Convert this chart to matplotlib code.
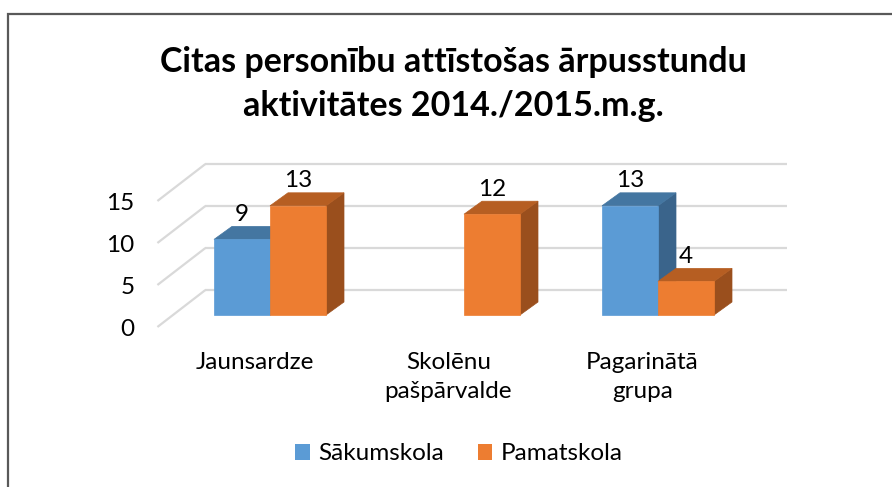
import matplotlib
matplotlib.use("Agg")
import matplotlib.pyplot as plt
from matplotlib.patches import Polygon, Rectangle
import numpy as np

plt.rcParams['font.family'] = ['Lato', 'DejaVu Sans']

# ---- data ----
categories = ["Jaunsardze", "Skolēnu\npašpārvalde", "Pagarinātā\ngrupa"]
series_names = ["Sākumskola", "Pamatskola"]
sakumskola = [9, np.nan, 13]
pamatskola = [13, 12, 4]
y_ticks = [0, 5, 10, 15]
title = "Citas personību attīstošas ārpusstundu\naktivitātes 2014./2015.m.g."

# ---- style ----
front_cols = ["#5B9BD5", "#ED7D31"]
top_cols = ["#4476A1", "#B65E22"]
side_cols = ["#3A648B", "#9A4F1D"]
grid_col = "#D9D9D9"
text_col = "#000000"
FS = 17.5

W, H = 892, 487
fig = plt.figure(figsize=(W / 100, H / 100), dpi=100)
ax = fig.add_axes([0, 0, 1, 1])
ax.set_axis_off()

# axis scale: pixel mapping for bar front plane
PX_X = 194.0   # px per category
PX_V = 8.4     # px per value unit
X0, V0 = 270.0, 315.0
ax.set_xlim(-X0 / PX_X, (W - X0) / PX_X)
ax.set_ylim((V0 - H) / PX_V, V0 / PX_V)

# 3D depth offsets (in data units)
dxf, dvf = -15.6 / PX_X, -12 / PX_V     # front plane relative to bars
dxb, dvb = 32.4 / PX_X, 25 / PX_V       # back wall relative to bars
bdx, bdv = 18 / PX_X, 13 / PX_V         # bar depth
bar_w = 56 / PX_X
xl, xr = -0.5, 2.5

# back wall gridlines and side-wall diagonals
for v in y_ticks:
    ax.plot([xl + dxb, xr + dxb], [v + dvb, v + dvb], color=grid_col, lw=1.6,
            zorder=1, solid_capstyle='butt')
    ax.plot([xl + dxf, xl + dxb], [v + dvf, v + dvb], color=grid_col, lw=1.6,
            zorder=1, solid_capstyle='butt')
    ax.text(xl + dxf - 23 / PX_X, v + dvf - 0.3, str(v), ha='right', va='center',
            fontsize=FS, color=text_col)

# bars
z = 2
for i in range(len(categories)):
    for s, vals in enumerate([sakumskola, pamatskola]):
        v = vals[i]
        if v is None or np.isnan(v):
            continue
        x0 = i - bar_w + s * bar_w
        x1 = x0 + bar_w
        front = Polygon([(x0, 0), (x1, 0), (x1, v), (x0, v)], closed=True,
                        facecolor=front_cols[s], edgecolor=front_cols[s], lw=0.5, zorder=z + 0.2)
        top = Polygon([(x0, v), (x1, v), (x1 + bdx, v + bdv), (x0 + bdx, v + bdv)], closed=True,
                      facecolor=top_cols[s], edgecolor=top_cols[s], lw=0.5, zorder=z + 0.1)
        side = Polygon([(x1, 0), (x1 + bdx, bdv), (x1 + bdx, v + bdv), (x1, v)], closed=True,
                       facecolor=side_cols[s], edgecolor=side_cols[s], lw=0.5, zorder=z)
        for p in (side, top, front):
            ax.add_patch(p)
        ax.text((x0 + x1) / 2, v + bdv + 12 / PX_V, f"{v:g}", ha='center', va='center',
                fontsize=FS, color=text_col, zorder=10)
        z += 1

# category labels
for i, c in enumerate(categories):
    ax.text(i + dxf, -4.45, c, ha='center', va='top', fontsize=FS, color=text_col,
            linespacing=1.42)

# title
fig.text(453 / W, 1 - 84 / H, title, ha='center', va='center', fontsize=24.5,
         fontweight='bold', color=text_col, linespacing=1.48)

# legend
handles = [Rectangle((0, 0), 1, 1, facecolor=front_cols[k], edgecolor='none') for k in range(2)]
leg = fig.legend(handles, series_names, loc='center', bbox_to_anchor=(459 / W, 1 - 454 / H),
                 ncol=2, frameon=False, fontsize=FS, handlelength=0.6, handleheight=0.6,
                 handletextpad=0.35, columnspacing=1.4)

# chart frame (cropped at right and bottom)
fig.patches.append(Rectangle((8 / W, -0.1), 1.2, 1 - 14 / H + 0.1, transform=fig.transFigure,
                             facecolor='none', edgecolor='#595959', lw=1.6, figure=fig))

fig.savefig("out.png", dpi=100)
